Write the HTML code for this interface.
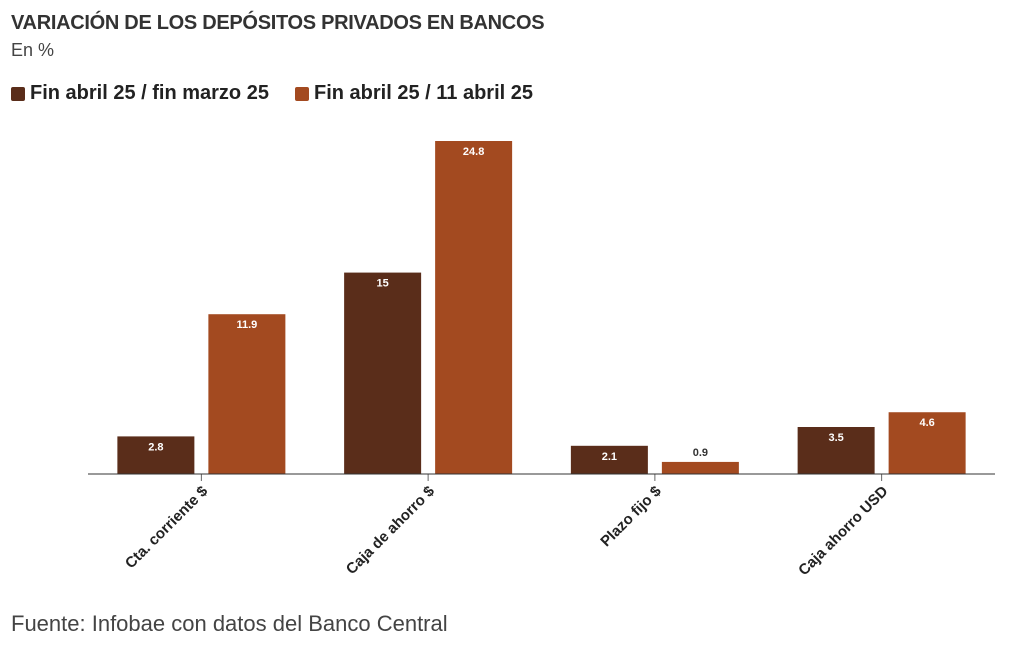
<!DOCTYPE html>
<html><head><meta charset="utf-8"><style>
body{margin:0;width:1020px;height:650px;background:#fff;font-family:"Liberation Sans",sans-serif;overflow:hidden;position:relative}
.t{position:absolute;left:11px;top:12px;font-size:20px;font-weight:bold;color:#333;letter-spacing:-0.3px}
.s{position:absolute;left:11px;top:40px;font-size:18px;color:#444}
.lg{position:absolute;top:82px;font-size:20px;font-weight:bold;color:#222;display:flex;align-items:center}
.sw{width:14px;height:14px;border-radius:2px;margin-right:5px}
.f{position:absolute;left:11px;top:611px;font-size:22px;color:#444}
</style></head><body>
<div class="t">VARIACIÓN DE LOS DEPÓSITOS PRIVADOS EN BANCOS</div>
<div class="s">En %</div>
<div class="lg" style="left:11px"><span class="sw" style="background:#5a2d1a"></span>Fin abril 25 / fin marzo 25</div>
<div class="lg" style="left:295px"><span class="sw" style="background:#a34a20"></span>Fin abril 25 / 11 abril 25</div>
<svg id="c" width="1020" height="650" style="position:absolute;left:0;top:0"></svg>
<div class="f">Fuente: Infobae con datos del Banco Central</div>
<script>
const categories=["Cta. corriente $","Caja de ahorro $","Plazo fijo $","Caja ahorro USD"];
const seriesMarzo=[2.8,15,2.1,3.5];
const seriesAbril=[11.9,24.8,0.9,4.6];
const labelsMarzo=["2.8","15","2.1","3.5"];
const labelsAbril=["11.9","24.8","0.9","4.6"];
const ns="http://www.w3.org/2000/svg",svg=document.getElementById('c');
const x0=88,x1=995,base=474,scale=333/24.8,bw=77,gap=14;
const band=(x1-x0)/categories.length;
const y=v=>base-v*scale;
function mk(t,a){const e=document.createElementNS(ns,t);for(const k in a)e.setAttribute(k,a[k]);svg.appendChild(e);return e;}
categories.forEach((c,i)=>{
 const cx=x0+band*(i+0.5);
 [[seriesMarzo,labelsMarzo,"#5a2d1a",cx-gap/2-bw,'bar-marzo'],[seriesAbril,labelsAbril,"#a34a20",cx+gap/2,'bar-abril']].forEach(([s,l,col,bx,nm])=>{
  const v=s[i],top=y(v),h=base-top;
  const r=mk('rect',{x:bx,y:top,width:bw,height:h,fill:col});
  
  
  const inside=h>20;
  const t=mk('text',{x:bx+bw/2,y:inside?top+14:top-6,'text-anchor':'middle','font-size':'11','font-weight':'bold',fill:inside?'#fff':'#333'});
  t.textContent=l[i];
  
  
 });
 const tk=mk('line',{x1:cx,x2:cx,y1:base,y2:base+7,stroke:'#666'});
 
 
 const lb=mk('text',{x:cx+7,y:base+18,'text-anchor':'end','font-size':'15','font-weight':'bold',fill:'#222',transform:`rotate(-45 ${cx+7} ${base+18})`});
 lb.textContent=c;
 
 
});
const ax=mk('line',{x1:x0,x2:x1,y1:base,y2:base,stroke:'#333','stroke-width':1});


</script>
</body></html>
